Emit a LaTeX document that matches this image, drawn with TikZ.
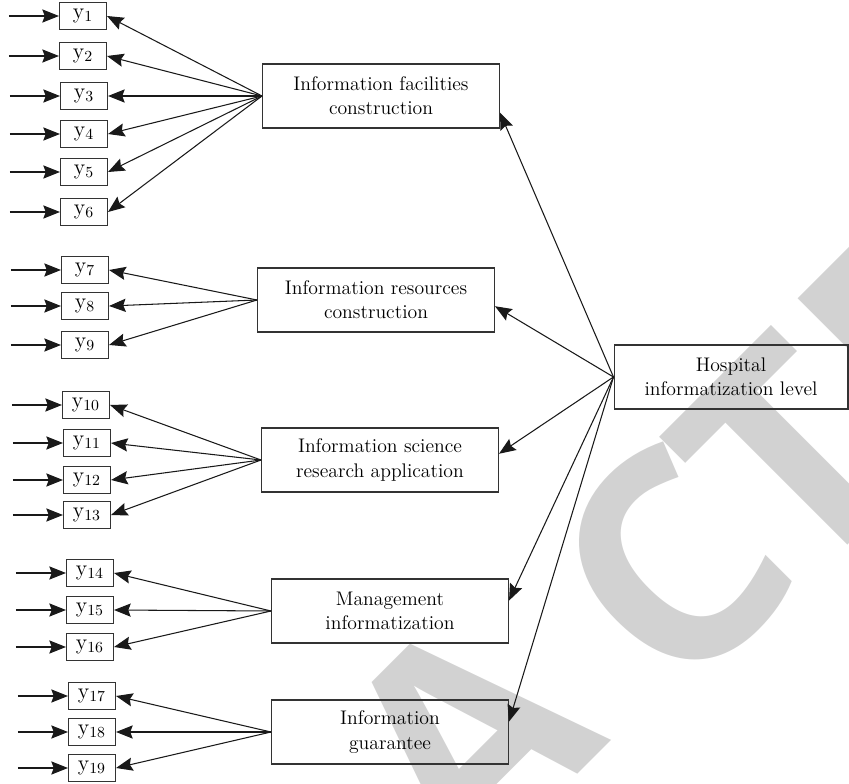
\documentclass[tikz,border=0pt]{standalone}
\usepackage{fontspec}
\usepackage{tikz}
\usetikzlibrary{arrows.meta,positioning}
\newfontfamily\wmfont{Open Sans}

\begin{document}
\begin{tikzpicture}[x=0.02cm, y=-0.02cm,
    box/.style={draw=black!80, line width=0.6pt, minimum width=4.74cm, minimum height=1.28cm, align=center, font=\fontsize{11.2}{13.8}\selectfont},
    ybox/.style={draw=black!80, line width=0.6pt, minimum width=0.94cm, minimum height=0.54cm, inner sep=1pt, font=\fontsize{12.5}{14}\selectfont},
    arr/.style={-{Stealth[length=9.5pt, width=7.5pt, inset=1.4pt]}, line width=0.6pt, black!90},
    wm/.style={rotate=45, anchor=base, text=gray!35, inner sep=0pt, font=\wmfont\bfseries\fontsize{167}{167}\selectfont}]
        \useasboundingbox (0,0) rectangle (849,784);

        % Watermark
        \foreach \l/\x/\y in {A/540/812, C/745/640, T/864/529, E/986/407}
            \node[wm] (wm\l) at (\x,\y) {\l};

        % Indicators
        \node[ybox] (y1) at (83,16) {y\textsubscript{1}};
        \node[ybox] (y2) at (83,56) {y\textsubscript{2}};
        \node[ybox] (y3) at (84,96) {y\textsubscript{3}};
        \node[ybox] (y4) at (84,134) {y\textsubscript{4}};
        \node[ybox] (y5) at (84,172) {y\textsubscript{5}};
        \node[ybox] (y6) at (84,212) {y\textsubscript{6}};
        \node[ybox] (y7) at (85,270) {y\textsubscript{7}};
        \node[ybox] (y8) at (85,306) {y\textsubscript{8}};
        \node[ybox] (y9) at (85,345) {y\textsubscript{9}};
        \node[ybox] (y10) at (86,405) {y\textsubscript{10}};
        \node[ybox] (y11) at (87,443) {y\textsubscript{11}};
        \node[ybox] (y12) at (87,480) {y\textsubscript{12}};
        \node[ybox] (y13) at (87,515) {y\textsubscript{13}};
        \node[ybox] (y14) at (90,573) {y\textsubscript{14}};
        \node[ybox] (y15) at (90,610) {y\textsubscript{15}};
        \node[ybox] (y16) at (90,647) {y\textsubscript{16}};
        \node[ybox] (y17) at (92,696) {y\textsubscript{17}};
        \node[ybox] (y18) at (92,732) {y\textsubscript{18}};
        \node[ybox] (y19) at (92,768) {y\textsubscript{19}};

        % Dimensions
        \node[box] (fac) at (381,96) {Information facilities\\construction};
        \node[box] (res) at (376,300) {Information resources\\construction};
        \node[box] (sci) at (380,460) {Information science\\research application};
        \node[box] (man) at (390,611) {Management\\informatization};
        \node[box] (gua) at (390,732) {Information\\guarantee};

        % Target
        \node[box, minimum width=4.68cm] (hosp) at (731,377) {Hospital\\informatization level};

        % Connections
        \draw[arr] (hosp.west) -- (fac.-8);
        \draw[arr] (hosp.west) -- (res.-3);
        \draw[arr] (hosp.west) -- (sci.3);
        \draw[arr] (hosp.west) -- (man.5);
        \draw[arr] (hosp.west) -- (gua.5);
        \foreach \i in {1,...,6} \draw[arr] (fac.west) -- (y\i.east);
        \foreach \i in {7,8,9} \draw[arr] (res.west) -- (y\i.east);
        \foreach \i in {10,...,13} \draw[arr] (sci.west) -- (y\i.east);
        \foreach \i in {14,15,16} \draw[arr] (man.west) -- (y\i.east);
        \foreach \i in {17,18,19} \draw[arr] (gua.west) -- (y\i.east);
        \foreach \i in {1,...,19} \draw[arr] ([xshift=-1cm]y\i.west) -- (y\i.west);
    \end{tikzpicture}
\end{document}
